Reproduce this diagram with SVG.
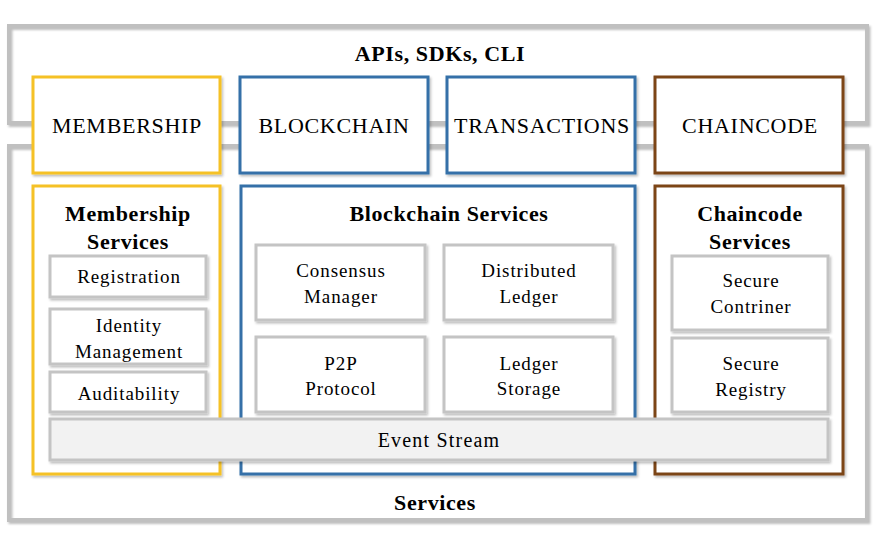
<svg xmlns="http://www.w3.org/2000/svg" width="877" height="547" viewBox="0 0 877 547">
<defs>
<filter id="sh" x="-10%" y="-10%" width="130%" height="140%">
<feDropShadow dx="1.5" dy="2" stdDeviation="1" flood-color="#000" flood-opacity="0.25"/>
</filter>
</defs>
<style>
.frame{fill:none;stroke:#c0c0c0;stroke-width:4}
.y{fill:#fff;stroke:#f5c125;stroke-width:3}
.b{fill:#fff;stroke:#3470a8;stroke-width:3}
.br{fill:#fff;stroke:#7b4419;stroke-width:3}
.g{fill:#fff;stroke:#c4c4c4;stroke-width:3}
.ev{fill:#f2f2f2;stroke:#c4c4c4;stroke-width:3}
.t{font-size:22px;letter-spacing:0.7px}
.h{font-size:22px;font-weight:bold;letter-spacing:0.6px}
.s{font-size:19px;letter-spacing:0.9px}
.e{font-size:20px;letter-spacing:1.2px}
</style>
<g font-family="Liberation Serif, Times New Roman, DejaVu Serif, serif" text-anchor="middle" fill="#000">
<g id="apis">
<rect class="frame" x="9" y="26" width="858" height="97" filter="url(#sh)"/>
<text class="h" x="440" y="61">APIs, SDKs, CLI</text>
</g>
<g id="services">
<rect class="frame" x="9" y="146" width="858" height="374" filter="url(#sh)"/>
<text class="h" x="435" y="510">Services</text>
</g>
<g id="connectors"></g>
<g id="membership">
<rect class="y" x="33" y="77" width="187" height="96" filter="url(#sh)"/>
<text class="t" x="127" y="133">MEMBERSHIP</text>
</g>
<g id="blockchain">
<rect class="b" x="240" y="77" width="188" height="96" filter="url(#sh)"/>
<text class="t" x="334" y="133">BLOCKCHAIN</text>
</g>
<g id="transactions">
<rect class="b" x="447" y="77" width="188" height="96" filter="url(#sh)"/>
<text class="t" x="542" y="133">TRANSACTIONS</text>
</g>
<g id="chaincode">
<rect class="br" x="655" y="77" width="188" height="96" filter="url(#sh)"/>
<text class="t" x="750" y="133">CHAINCODE</text>
</g>
<g id="membership-services">
<rect class="y" x="33" y="186" width="187" height="288" filter="url(#sh)"/>
<text class="h" x="128" y="221">Membership</text>
<text class="h" x="128" y="249">Services</text>
</g>
<g id="registration">
<rect class="g" x="50" y="256" width="156" height="41" filter="url(#sh)"/>
<text class="s" x="129" y="283">Registration</text>
</g>
<g id="identity">
<rect class="g" x="50" y="309" width="156" height="55" filter="url(#sh)"/>
<text class="s" x="129" y="332">Identity</text>
<text class="s" x="129" y="358">Management</text>
</g>
<g id="auditability">
<rect class="g" x="50" y="372" width="156" height="40" filter="url(#sh)"/>
<text class="s" x="129" y="400">Auditability</text>
</g>
<g id="blockchain-services">
<rect class="b" x="241" y="186" width="394" height="288" filter="url(#sh)"/>
<text class="h" x="449" y="221">Blockchain Services</text>
</g>
<g id="consensus">
<rect class="g" x="256" y="245" width="169" height="75" filter="url(#sh)"/>
<text class="s" x="341" y="277">Consensus</text>
<text class="s" x="341" y="303">Manager</text>
</g>
<g id="distributed">
<rect class="g" x="444" y="245" width="169" height="75" filter="url(#sh)"/>
<text class="s" x="529" y="277">Distributed</text>
<text class="s" x="529" y="303">Ledger</text>
</g>
<g id="p2p">
<rect class="g" x="256" y="337" width="169" height="75" filter="url(#sh)"/>
<text class="s" x="341" y="370">P2P</text>
<text class="s" x="341" y="395">Protocol</text>
</g>
<g id="ledger-storage">
<rect class="g" x="444" y="337" width="169" height="75" filter="url(#sh)"/>
<text class="s" x="529" y="370">Ledger</text>
<text class="s" x="529" y="395">Storage</text>
</g>
<g id="chaincode-services">
<rect class="br" x="655" y="186" width="188" height="288" filter="url(#sh)"/>
<text class="h" x="750" y="221">Chaincode</text>
<text class="h" x="750" y="249">Services</text>
</g>
<g id="secure-container">
<rect class="g" x="672" y="256" width="156" height="74" filter="url(#sh)"/>
<text class="s" x="751" y="287">Secure</text>
<text class="s" x="751" y="313">Contriner</text>
</g>
<g id="secure-registry">
<rect class="g" x="672" y="338" width="156" height="74" filter="url(#sh)"/>
<text class="s" x="751" y="370">Secure</text>
<text class="s" x="751" y="396">Registry</text>
</g>
<g id="event-stream">
<rect class="ev" x="50" y="419" width="778" height="41" filter="url(#sh)"/>
<text class="e" x="439" y="447">Event Stream</text>
</g>
</g>
</svg>
